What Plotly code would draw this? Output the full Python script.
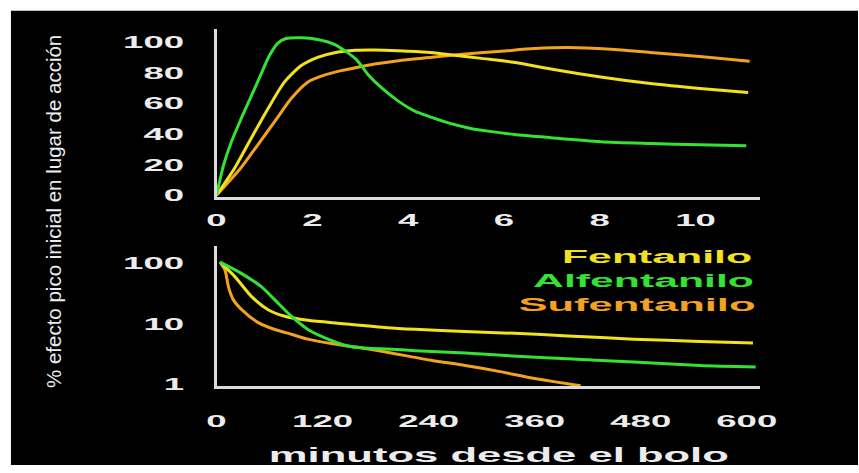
import plotly.graph_objects as go

# ---------------- data ----------------
# top panel: minutes 0-11, % effect
alf_top_t = [0, 0.15, 0.3, 0.5, 0.7, 0.9, 1.1, 1.28, 1.45, 1.77, 2.11, 2.46, 2.91, 3.18, 3.46, 3.81, 4.15, 4.43, 4.84, 5.26, 5.67, 6.22, 6.98, 8.02, 9.06, 10.09, 11.06]
alf_top_v = [0, 20, 34, 49, 63, 77, 91, 99.5, 102.5, 103, 101.9, 98.7, 89, 78.3, 69.8, 61.2, 54.8, 51.6, 47.3, 44, 41.9, 39.7, 37.6, 35, 33.8, 32.9, 32.3]

fen_top_t = [0, 0.39, 0.73, 1.08, 1.42, 1.77, 2.11, 2.49, 2.9, 3.3, 3.8, 4.4, 4.84, 5.53, 6.2, 6.98, 8.02, 9.06, 10.09, 11.1]
fen_top_v = [0, 18.3, 37.6, 56.9, 74.1, 84.8, 90.2, 93.4, 94.8, 95, 94.5, 93.5, 92, 89.5, 87, 82.6, 77.3, 73, 69.8, 67.2]

suf_top_t = [0, 0.52, 0.87, 1.22, 1.56, 1.91, 2.25, 2.6, 2.95, 3.3, 3.8, 4.5, 5.2, 5.95, 6.64, 7.33, 8.23, 9.06, 10.09, 11.13]
suf_top_v = [0, 18.3, 33.3, 48.4, 63.3, 74.1, 78.5, 81.5, 83.7, 85.8, 88, 90.2, 92.4, 94.2, 95.9, 96.6, 95.5, 93.4, 90.8, 87.6]

# bottom panel: minutes 0-600, % effect (log scale)
alf_bot_t = [4, 28.5, 51, 66, 84.6, 103.4, 122, 148, 171, 193, 225, 262.6, 300, 345, 397.4, 472, 547, 610]
alf_bot_v = [105, 68, 41, 25, 13.4, 8.1, 5.96, 4.36, 3.95, 3.85, 3.61, 3.4, 3.19, 2.89, 2.65, 2.34, 2.06, 1.94]

fen_bot_t = [4, 21, 39.7, 58.4, 77.2, 103.4, 140.8, 193, 225, 281, 337.4, 397.4, 472, 547, 607]
fen_bot_v = [105, 60, 28.3, 17.2, 13.4, 11.5, 10.2, 8.67, 8.14, 7.46, 7.0, 6.34, 5.6, 5.14, 4.82]

suf_bot_t = [4, 9.7, 13.5, 19.1, 28.5, 47.2, 66, 84.6, 103.4, 133.4, 159.6, 193, 243.8, 281.2, 322.5, 360, 412]
suf_bot_v = [105, 77, 41, 25, 17.2, 10.5, 8.1, 6.75, 5.6, 4.64, 4.1, 3.4, 2.49, 2.06, 1.61, 1.25, 0.95]

top_x_ticks = [0, 2, 4, 6, 8, 10]
top_y_ticks = [0, 20, 40, 60, 80, 100]
bot_x_ticks = [0, 120, 240, 360, 480, 600]
bot_y_ticks = [1, 10, 100]
bot_y_labels = ["1", "10", "100"]

names = ["Fentanilo", "Alfentanilo", "Sufentanilo"]
y_title = "% efecto pico inicial en lugar de acción"
x_title = "minutos desde el bolo"

# ---------------- styles ----------------
W, H = 859, 473
C_FEN = "#f2e21e"
C_ALF = "#33e233"
C_SUF = "#f2a21e"
AX = "#dcdcdc"

def px(x):
    return x / W

def py(y):
    return (H - y) / H

fig = go.Figure()
line_kw = dict(mode="lines", line_shape="spline", hoverinfo="skip", showlegend=False)
fig.add_trace(go.Scatter(x=suf_top_t, y=suf_top_v, line=dict(color=C_SUF, width=3, smoothing=0.7), xaxis="x", yaxis="y", **line_kw))
fig.add_trace(go.Scatter(x=fen_top_t, y=fen_top_v, line=dict(color=C_FEN, width=3, smoothing=0.7), xaxis="x", yaxis="y", **line_kw))
fig.add_trace(go.Scatter(x=alf_top_t, y=alf_top_v, line=dict(color=C_ALF, width=3, smoothing=0.7), xaxis="x", yaxis="y", **line_kw))
fig.add_trace(go.Scatter(x=suf_bot_t, y=suf_bot_v, line=dict(color=C_SUF, width=3, smoothing=0.7), xaxis="x2", yaxis="y2", **line_kw))
fig.add_trace(go.Scatter(x=fen_bot_t, y=fen_bot_v, line=dict(color=C_FEN, width=3, smoothing=0.7), xaxis="x2", yaxis="y2", **line_kw))
fig.add_trace(go.Scatter(x=alf_bot_t, y=alf_bot_v, line=dict(color=C_ALF, width=3, smoothing=0.7), xaxis="x2", yaxis="y2", **line_kw))

tickfont = dict(family="Liberation Sans, Arial, sans-serif", size=17, color="#ececec", weight="bold")
axis_common = dict(showline=True, linecolor=AX, linewidth=3, showgrid=False, zeroline=False,
                   ticks="", tickfont=tickfont, tickmode="array", fixedrange=True)

xdom = [px(213), px(760)]
fig.update_layout(
    width=W, height=H,
    margin=dict(l=0, r=0, t=0, b=0),
    paper_bgcolor="white", plot_bgcolor="black",
    xaxis=dict(domain=xdom, range=[0, 11.34], anchor="y", tickvals=top_x_ticks,
               ticklabelstandoff=6, **axis_common),
    yaxis=dict(domain=[py(200), py(30)], range=[-0.96, 108.4], anchor="x", tickvals=top_y_ticks,
               ticklabelstandoff=26, **axis_common),
    xaxis2=dict(domain=xdom, range=[0, 614.6], anchor="y2", tickvals=bot_x_ticks,
                ticklabelstandoff=17, **axis_common),
    yaxis2=dict(domain=[py(393), py(250)], type="log", range=[-0.0325, 2.2927], anchor="x2",
                tickvals=bot_y_ticks, ticktext=bot_y_labels, ticklabelstandoff=26, **axis_common),
    shapes=[dict(type="rect", xref="paper", yref="paper", x0=px(6), x1=1.0, y0=0, y1=py(11),
                 fillcolor="black", line=dict(width=0), layer="below")],
)

ann = []
ann.append(dict(text=y_title, x=px(49), y=py(215), textangle=-90,
                font=dict(family="Liberation Sans, Arial, sans-serif", size=20.5, color="#ececec")))
ann.append(dict(text=x_title, x=px(497.5), y=py(462),
                font=dict(family="Liberation Sans, Arial, sans-serif", size=21, color="#ececec", weight="bold")))
leg_pos = [(657, 261), (642.5, 286), (636.5, 310.5)]
leg_col = [C_FEN, C_ALF, C_SUF]
for n, (lx, ly), c in zip(names, leg_pos, leg_col):
    ann.append(dict(text=n, x=px(lx), y=py(ly),
                    font=dict(family="Liberation Sans, Arial, sans-serif", size=18, color=c, weight="bold")))
for a in ann:
    a.update(xref="paper", yref="paper", showarrow=False, xanchor="center", yanchor="middle")
fig.update_layout(annotations=ann)

# the reference image is stretched horizontally: widen horizontal texts with SVG textLength
post = """
(function(){
var gd = document.getElementById('{plot_id}');
var targets = {"1": 460, "2": 190, "3": 221, "4": 237};
var TICK = 2.15;
function stretch(){
  gd.querySelectorAll('.xtick text, .x2tick text, .ytick text, .y2tick text, .annotation text.annotation-text').forEach(function(t){
    if (t.hasAttribute('textLength')) return;
    var g = t.closest('.annotation');
    var w = t.getComputedTextLength();
    var target = w * TICK;
    if (g) {
      var k = g.getAttribute('data-index');
      if (!targets[k]) return;
      target = targets[k];
    }
    t.setAttribute('lengthAdjust', 'spacingAndGlyphs');
    t.setAttribute('textLength', target);
  });
}
stretch();
if (gd.on) gd.on('plotly_afterplot', stretch);
})();
"""
fig.write_html("out.html", post_script=post, config={"responsive": False, "displayModeBar": False})
